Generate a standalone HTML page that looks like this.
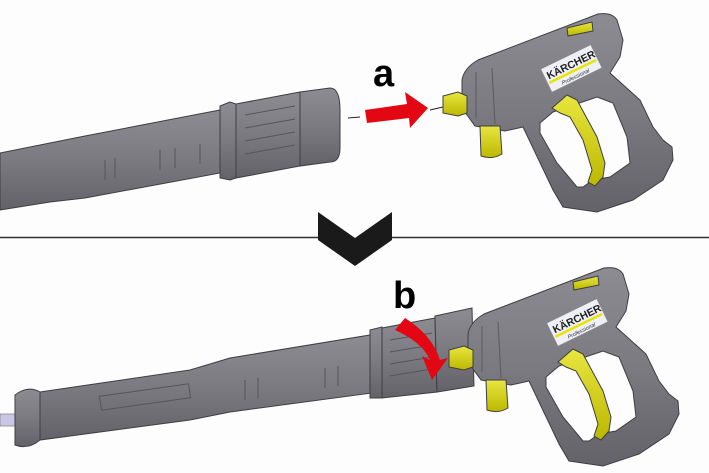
<!DOCTYPE html>
<html><head><meta charset="utf-8"><style>
html,body{margin:0;padding:0;background:#fff;}
svg{display:block}
</style></head><body>
<svg width="709" height="473" viewBox="0 0 709 473" xmlns="http://www.w3.org/2000/svg">
<defs>
<linearGradient id="g1" x1="0" y1="0" x2="0" y2="1">
<stop offset="0" stop-color="#8c8c92"/><stop offset="0.5" stop-color="#7a7a80"/><stop offset="1" stop-color="#626268"/>
</linearGradient>
<linearGradient id="gy" x1="0" y1="0" x2="0" y2="1">
<stop offset="0" stop-color="#e8e640"/><stop offset="1" stop-color="#bcb800"/>
</linearGradient>
<g id="gun">
<g stroke="#3e3e44" stroke-width="1">
<path d="M462,108 L462,80 Q464,68 478,60 L598,14 Q612,12 617,20 L623,40 L620,57 L610,73 L640,100 L653,127 L663,140 L672,147 L673,160 L663,180 L633,200 L597,212 L563,207 L553,190 L523,127 L505,131 L475,126 Z" fill="url(#g1)"/>
<path d="M540,123 L553,112 L597,97 L613,103 L627,137 L630,163 L610,177 L593,180 L583,187 L577,187 L557,163 L540,133 Z" fill="#fdfdfd"/>
<path d="M552,108 L567,95 L577,100 L597,137 L605,163 L603,177 L595,186 L588,182 L592,170 L583,140 L570,117 L560,113 Z" fill="url(#gy)"/>
<path d="M443,96 L458,92 L467,96 L467,113 L458,116 L443,113 Z" fill="url(#gy)"/>
<path d="M480,126 L500,126 L502,154 Q492,160 481,156 Z" fill="url(#gy)"/>
<path d="M567,28 L592,22 L593,31 L568,36 Z" fill="url(#gy)"/>
</g>
<path d="M476,72 L476,118 M492,68 L495,124" stroke="#5a5a60" fill="none"/>
<g transform="rotate(-26 570 68)">
<rect x="543" y="56" width="56" height="26" fill="#eef0f6" stroke="#888"/>
<text x="546" y="69" font-family="Liberation Sans, sans-serif" font-weight="bold" font-size="10.5" fill="#222">KÄRCHER</text>
<rect x="545" y="71" width="52" height="2.5" fill="#e8e400"/>
<text x="556" y="80" font-family="Liberation Sans, sans-serif" font-style="italic" font-size="5.5" fill="#333">Professional</text>
</g>
</g>
</defs>
<rect width="709" height="473" fill="#fdfdfd"/>

<g stroke="#3e3e44" stroke-width="1" fill="url(#g1)">
<path d="M0,153 L50,143 L85,136 L220,110 L220,173 L85,198 L50,202 L0,210 Z"/>
<path d="M220,106 L230,102 L236,104 L236,178 L230,180 L220,178 Z"/>
<path d="M236,104 L300,92 L300,166 L236,178 Z"/>
<path d="M300,92 L330,88 Q340,88 340,110 L340,148 Q340,162 330,162 L300,166 Z"/>
</g>
<g stroke="#55555b" stroke-width="1">
<line x1="245" y1="115" x2="295" y2="106"/><line x1="245" y1="128" x2="295" y2="119"/>
<line x1="245" y1="141" x2="295" y2="132"/><line x1="245" y1="154" x2="295" y2="145"/>
<line x1="105" y1="160" x2="105" y2="180"/><line x1="115" y1="158" x2="115" y2="178"/>
<line x1="160" y1="150" x2="160" y2="170"/><line x1="175" y1="148" x2="175" y2="168"/>
<line x1="200" y1="144" x2="200" y2="164"/>
</g>

<line x1="348" y1="118" x2="360" y2="117" stroke="#222" stroke-width="1"/>
<line x1="430" y1="110" x2="443" y2="107" stroke="#222" stroke-width="1"/>
<path d="M365,110 L407,104 L405,92 L428,108 L410,128 L409,118 L367,123 Z" fill="#e30613"/>
<text x="373" y="86" font-family="Liberation Sans, sans-serif" font-weight="bold" font-size="38" fill="#000">a</text>

<use href="#gun"/>

<line x1="0" y1="237.5" x2="320" y2="237.5" stroke="#333" stroke-width="1.5"/>
<line x1="390" y1="237.5" x2="709" y2="237.5" stroke="#333" stroke-width="1.5"/>
<path d="M318,212 L355,238 L392,212 L392,240 L355,266 L318,240 Z" fill="#1a1a1a"/>

<rect x="0" y="414" width="22" height="12" fill="#c8c8e6" stroke="#888" stroke-width="0.8"/>
<g stroke="#3e3e44" stroke-width="1" fill="url(#g1)">
<path d="M15,395 Q28,385 40,392 L40,440 Q28,450 15,445 Z"/>
<path d="M40,392 L190,370 L230,358 L370,335 L372,393 L230,412 L190,420 L40,440 Z"/>
<path d="M370,330 L382,327 L382,398 L370,398 Z"/>
<path d="M382,328 L435,318 L437,392 L382,398 Z"/>
<path d="M435,316 L472,308 L474,386 L437,392 Z"/>
</g>
<g stroke="#55555b" stroke-width="1">
<line x1="390" y1="340" x2="432" y2="333"/><line x1="390" y1="352" x2="432" y2="345"/>
<line x1="390" y1="364" x2="432" y2="357"/><line x1="390" y1="376" x2="432" y2="369"/>
<line x1="245" y1="380" x2="245" y2="400"/><line x1="258" y1="378" x2="258" y2="398"/>
<line x1="325" y1="368" x2="325" y2="388"/><line x1="338" y1="366" x2="338" y2="386"/>
<rect x="100" y="390" width="90" height="14" fill="none" transform="rotate(-8 145 397)"/>
</g>

<use href="#gun" transform="translate(6,254)"/>

<path d="M395,330 L405,318 Q432,335 440,360 L448,358 L432,380 L422,356 L430,360 Q422,342 395,330 Z" fill="#e30613"/>
<text x="393" y="308" font-family="Liberation Sans, sans-serif" font-weight="bold" font-size="38" fill="#000">b</text>
</svg>
</body></html>
